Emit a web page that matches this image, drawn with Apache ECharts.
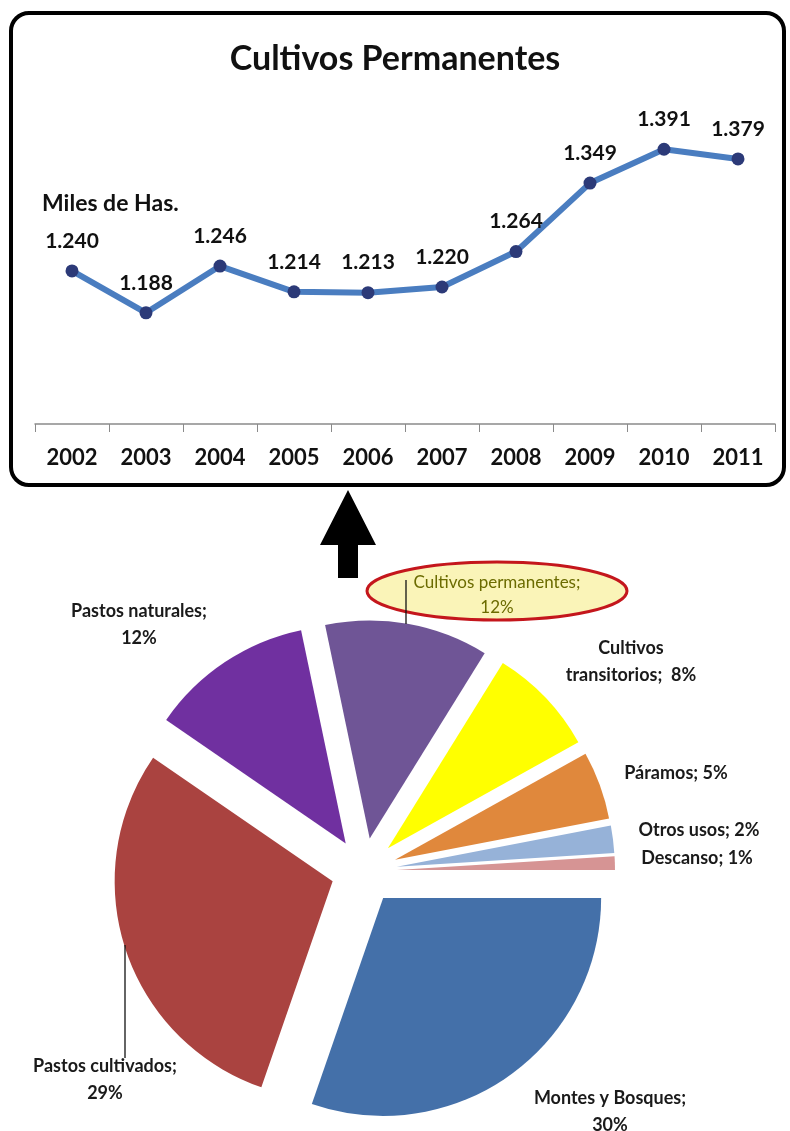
<!DOCTYPE html>
<html>
<head>
<meta charset="utf-8">
<script src="https://cdn.jsdelivr.net/npm/echarts@6/dist/echarts.min.js"></script>
<style>
html,body{margin:0;padding:0;background:#fff;}
#c{width:790px;height:1131px;}
</style>
</head>
<body>
<div id="c"></div>
<script>
// ---- Data ----
var years = ['2002','2003','2004','2005','2006','2007','2008','2009','2010','2011'];
var areaThousandHa = [1240, 1188, 1246, 1214, 1213, 1220, 1264, 1349, 1391, 1379];

var landUseNames = ['Montes y Bosques','Pastos cultivados','Pastos naturales','Cultivos permanentes','Cultivos transitorios','Páramos','Otros usos','Descanso'];
var landUsePct = [30, 29, 12, 12, 8, 5, 2, 1];

// ---- Styling / layout (not data) ----
var sliceColors = ['#4470A9','#AA4340','#7030A0','#6F5596','#FFFF00','#E0883C','#96B2D8','#D69494'];
var labelPos = [[610,1112],[105,1080],[139,625],[497,595],[631,662],[676,773],[699,830],[697,858]];
var labelMode = ['nl','nl','nl','nl','tr','in','in','in'];
var FONT = 'Lato, "Noto Sans", sans-serif';

function fmtThousands(v){
  var s = String(v);
  return s.length > 3 ? s.slice(0, s.length-3) + '.' + s.slice(s.length-3) : s;
}
function pieLabelText(i){
  var n = landUseNames[i], v = landUsePct[i], m = labelMode[i];
  if (m === 'tr') { var k = n.indexOf(' '); return n.slice(0,k) + '\n' + n.slice(k+1) + ';  ' + v + '%'; }
  if (m === 'in') return n + '; ' + v + '%';
  return n + ';\n' + v + '%';
}

var pieData = landUseNames.map(function(n, i){
  return {name: n, value: landUsePct[i], selected: true, itemStyle: {color: sliceColors[i]}};
});

var graphics = [
  {type: 'rect', z: 0, shape: {x: 11, y: 13, width: 773, height: 472, r: 18},
   style: {fill: 'none', stroke: '#000', lineWidth: 4}},
  {type: 'polygon', z: 0, shape: {points: [[338,578],[358,578],[358,545],[376,545],[348,490],[320,545],[338,545]]},
   style: {fill: '#000'}},
  {type: 'ellipse', z: 5, shape: {cx: 497, cy: 591, rx: 130, ry: 29},
   style: {fill: '#FAF4B8', stroke: '#C4161C', lineWidth: 3}},
  // leader lines
  {type: 'line', z: 6, shape: {x1: 406, y1: 580, x2: 406, y2: 624}, style: {stroke: '#111', lineWidth: 1.3}},
  {type: 'line', z: 6, shape: {x1: 125, y1: 945, x2: 125, y2: 1058}, style: {stroke: '#111', lineWidth: 1.3}}
];
landUseNames.forEach(function(n, i){
  var isPerm = (i === 3);
  graphics.push({
    type: 'text', z: 7,
    style: {
      text: pieLabelText(i), x: labelPos[i][0], y: labelPos[i][1],
      align: 'center', verticalAlign: 'middle',
      fontFamily: FONT, fontSize: isPerm ? 17 : 18, fontWeight: isPerm ? 'normal' : 'bold',
      lineHeight: isPerm ? 25 : 27,
      fill: isPerm ? '#6B6B00' : '#1a1a1a'
    }
  });
});

var chart = echarts.init(document.getElementById('c'), null, {renderer: 'canvas'});
chart.setOption({
  animation: false,
  backgroundColor: '#fff',
  title: [
    {text: 'Cultivos Permanentes', left: 'center', top: 37,
     textStyle: {fontFamily: FONT, fontSize: 34, fontWeight: 'bold', color: '#111'}},
    {text: 'Miles de Has.', left: 37, top: 187,
     textStyle: {fontFamily: FONT, fontSize: 23, fontWeight: 'bold', color: '#111'}}
  ],
  graphic: graphics,
  grid: {left: 35, right: 15, top: 142, bottom: 707},
  xAxis: {
    type: 'category', data: years, boundaryGap: true,
    axisLine: {lineStyle: {color: '#8a8a8a', width: 1.5}},
    axisTick: {show: true, alignWithLabel: false, length: 8, lineStyle: {color: '#8a8a8a'}},
    axisLabel: {margin: 23, fontFamily: FONT, fontSize: 22, fontWeight: 'bold', color: '#111'}
  },
  yAxis: {type: 'value', min: 1050, max: 1400, show: false, splitLine: {show: false}},
  series: [
    {
      type: 'line', data: areaThousandHa, z: 3,
      lineStyle: {color: '#4A7DC0', width: 6},
      symbol: 'circle', symbolSize: 13,
      itemStyle: {color: '#2C3A78'},
      label: {show: true, position: 'top', distance: 13, fontFamily: FONT, fontSize: 21, fontWeight: 'bold', color: '#111',
              formatter: function(p){ return fmtThousands(p.value); }}
    },
    {
      type: 'pie', z: 2,
      center: [364, 871], radius: 218,
      startAngle: 0, clockwise: true,
      selectedMode: 'multiple', selectedOffset: 33,
      emphasis: {disabled: true},
      data: pieData,
      label: {show: false},
      labelLine: {show: false}
    }
  ]
});
</script>
</body>
</html>
